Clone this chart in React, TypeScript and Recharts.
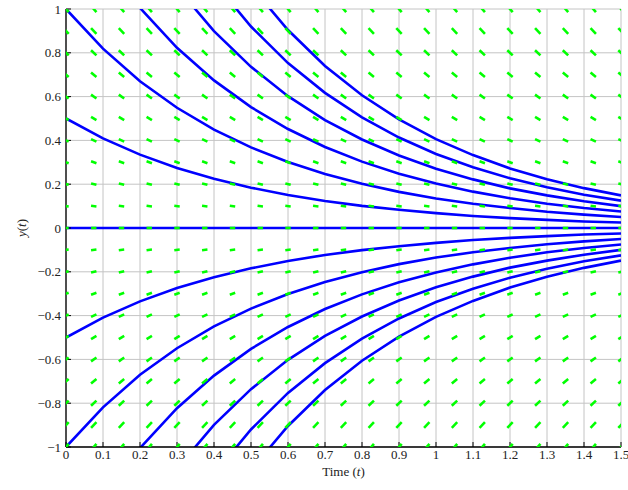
import {
    ComposedChart, Line, Scatter, XAxis, YAxis, CartesianGrid, Label
} from 'recharts';

// time samples used by the solution curves
const times = [0, 0.1, 0.2, 0.3, 0.4, 0.5, 0.6, 0.7, 0.8, 0.9, 1, 1.1, 1.2, 1.3, 1.4, 1.5];

// solution curves, named by initial value
const yPos3 = [3, 2.456, 2.011, 1.646, 1.348, 1.104, 0.904, 0.74, 0.606, 0.496, 0.406, 0.333, 0.272, 0.223, 0.182, 0.149];
const yPos25 = [2.5, 2.047, 1.676, 1.372, 1.123, 0.92, 0.753, 0.617, 0.505, 0.413, 0.338, 0.277, 0.227, 0.186, 0.152, 0.125];
const yPos2 = [2, 1.637, 1.341, 1.098, 0.899, 0.736, 0.602, 0.493, 0.404, 0.331, 0.271, 0.222, 0.181, 0.149, 0.122, 0.1];
const yPos15 = [1.5, 1.228, 1.005, 0.823, 0.674, 0.552, 0.452, 0.37, 0.303, 0.248, 0.203, 0.166, 0.136, 0.111, 0.091, 0.075];
const yPos1 = [1, 0.819, 0.67, 0.549, 0.449, 0.368, 0.301, 0.247, 0.202, 0.165, 0.135, 0.111, 0.091, 0.074, 0.061, 0.05];
const yPos05 = [0.5, 0.409, 0.335, 0.274, 0.225, 0.184, 0.151, 0.123, 0.101, 0.083, 0.068, 0.055, 0.045, 0.037, 0.03, 0.025];
const yZero = [0, 0, 0, 0, 0, 0, 0, 0, 0, 0, 0, 0, 0, 0, 0, 0];
const yNeg05 = [-0.5, -0.409, -0.335, -0.274, -0.225, -0.184, -0.151, -0.123, -0.101, -0.083, -0.068, -0.055, -0.045, -0.037, -0.03, -0.025];
const yNeg1 = [-1, -0.819, -0.67, -0.549, -0.449, -0.368, -0.301, -0.247, -0.202, -0.165, -0.135, -0.111, -0.091, -0.074, -0.061, -0.05];
const yNeg15 = [-1.5, -1.228, -1.005, -0.823, -0.674, -0.552, -0.452, -0.37, -0.303, -0.248, -0.203, -0.166, -0.136, -0.111, -0.091, -0.075];
const yNeg2 = [-2, -1.637, -1.341, -1.098, -0.899, -0.736, -0.602, -0.493, -0.404, -0.331, -0.271, -0.222, -0.181, -0.149, -0.122, -0.1];
const yNeg25 = [-2.5, -2.047, -1.676, -1.372, -1.123, -0.92, -0.753, -0.617, -0.505, -0.413, -0.338, -0.277, -0.227, -0.186, -0.152, -0.125];
const yNeg3 = [-3, -2.456, -2.011, -1.646, -1.348, -1.104, -0.904, -0.74, -0.606, -0.496, -0.406, -0.333, -0.272, -0.223, -0.182, -0.149];

const curves = [yPos3, yPos25, yPos2, yPos15, yPos1, yPos05, yZero, yNeg05, yNeg1, yNeg15, yNeg2, yNeg25, yNeg3];

// slope field grid
const fieldT = [0, 0.075, 0.15, 0.225, 0.3, 0.375, 0.45, 0.525, 0.6, 0.675, 0.75, 0.825, 0.9, 0.975, 1.05, 1.125, 1.2, 1.275, 1.35, 1.425, 1.5];
const fieldY = [-1, -0.9, -0.8, -0.7, -0.6, -0.5, -0.4, -0.3, -0.2, -0.1, 0, 0.1, 0.2, 0.3, 0.4, 0.5, 0.6, 0.7, 0.8, 0.9, 1];
const fieldSlope = [2, 1.8, 1.6, 1.4, 1.2, 1, 0.8, 0.6, 0.4, 0.2, 0, -0.2, -0.4, -0.6, -0.8, -1, -1.2, -1.4, -1.6, -1.8, -2];

// axis ticks
const xTicks = [0, 0.1, 0.2, 0.3, 0.4, 0.5, 0.6, 0.7, 0.8, 0.9, 1, 1.1, 1.2, 1.3, 1.4, 1.5];
const xTickLabels = ['0', '0.1', '0.2', '0.3', '0.4', '0.5', '0.6', '0.7', '0.8', '0.9', '1', '1.1', '1.2', '1.3', '1.4', '1.5'];
const yTicks = [-1, -0.8, -0.6, -0.4, -0.2, 0, 0.2, 0.4, 0.6, 0.8, 1];
const yTickLabels = ['\u22121', '\u22120.8', '\u22120.6', '\u22120.4', '\u22120.2', '0', '0.2', '0.4', '0.6', '0.8', '1'];

const W = 628;
const H = 490;
const M = { top: 9, right: 7, left: 8, bottom: 13 };
const Y_AXIS_W = 58;
const X_AXIS_H = 30;
const PLOT_W = W - M.left - M.right - Y_AXIS_W;
const PLOT_H = H - M.top - M.bottom - X_AXIS_H;
const PX_PER_SLOPE = (PLOT_H / 2) / (PLOT_W / 1.5);

const FONT = "'Liberation Serif', 'Times New Roman', serif";
const FS = 13;

const table = times.map((t, i) => {
    const row: Record<string, number> = { t };
    curves.forEach((c, k) => { row['c' + k] = c[i]; });
    return row;
});

const field: { t: number; y: number; s: number }[] = [];
fieldY.forEach((y, j) => {
    fieldT.forEach(t => field.push({ t, y, s: fieldSlope[j] }));
});

const Dash = (props: any) => {
    const { cx, cy, payload } = props;
    if (cx == null || cy == null) return null;
    const hx = 2.7;
    const hy = payload.s * PX_PER_SLOPE * hx;
    return (
        <line x1={cx - hx} y1={cy + hy} x2={cx + hx} y2={cy - hy}
            stroke="#00ff00" strokeWidth={2.6} />
    );
};

const XTitle = ({ viewBox }: any) => {
    const cx = viewBox.x + viewBox.width / 2;
    return (
        <text x={cx} y={476} textAnchor="middle" style={{ fontFamily: FONT, fontSize: FS }} fill="#222">
            Time (<tspan fontStyle="italic">t</tspan>)
        </text>
    );
};

const YTitle = ({ viewBox }: any) => {
    const cy = viewBox.y + viewBox.height / 2;
    return (
        <text x={26} y={cy} textAnchor="middle" style={{ fontFamily: FONT, fontSize: FS }} fill="#222"
            transform={`rotate(-90, 26, ${cy})`}>
            <tspan fontStyle="italic">y</tspan>(<tspan fontStyle="italic">t</tspan>)
        </text>
    );
};

export default function App() {
    return (
        <div style={{ position: 'absolute', left: 0, top: 0, width: W, height: H, background: '#fff', fontFamily: FONT }}>
            <ComposedChart width={W} height={H} data={table} margin={M} style={{ fontFamily: FONT }}>
                <CartesianGrid stroke="#c4c4c4" strokeWidth={1} />
                <XAxis
                    type="number" dataKey="t" domain={[0, 1.5]} ticks={xTicks} allowDataOverflow
                    height={X_AXIS_H} interval={0}
                    tickFormatter={(v: number) => xTickLabels[xTicks.indexOf(v)] ?? String(v)}
                    tick={{ fontFamily: FONT, fontSize: FS, fill: '#222' }}
                    tickSize={-5} tickMargin={8}
                    axisLine={{ stroke: '#000', strokeWidth: 1.3 }}
                    tickLine={{ stroke: '#000', strokeWidth: 1 }}
                >
                    <Label content={<XTitle />} />
                </XAxis>
                <YAxis
                    type="number" domain={[-1, 1]} ticks={yTicks} allowDataOverflow
                    width={Y_AXIS_W} interval={0}
                    tickFormatter={(v: number) => yTickLabels[yTicks.indexOf(v)] ?? String(v)}
                    tick={{ fontFamily: FONT, fontSize: FS, fill: '#222' }}
                    tickSize={-5} tickMargin={10}
                    axisLine={{ stroke: '#000', strokeWidth: 1.3 }}
                    tickLine={{ stroke: '#000', strokeWidth: 1 }}
                >
                    <Label content={<YTitle />} />
                </YAxis>
                <Scatter data={field} dataKey="y" shape={<Dash />} isAnimationActive={false} />
                {curves.map((_, k) => (
                    <Line key={k} type="linear" dataKey={'c' + k} stroke="#0000ff" strokeWidth={2.6}
                        dot={false} activeDot={false} isAnimationActive={false} />
                ))}
            </ComposedChart>
        </div>
    );
}
